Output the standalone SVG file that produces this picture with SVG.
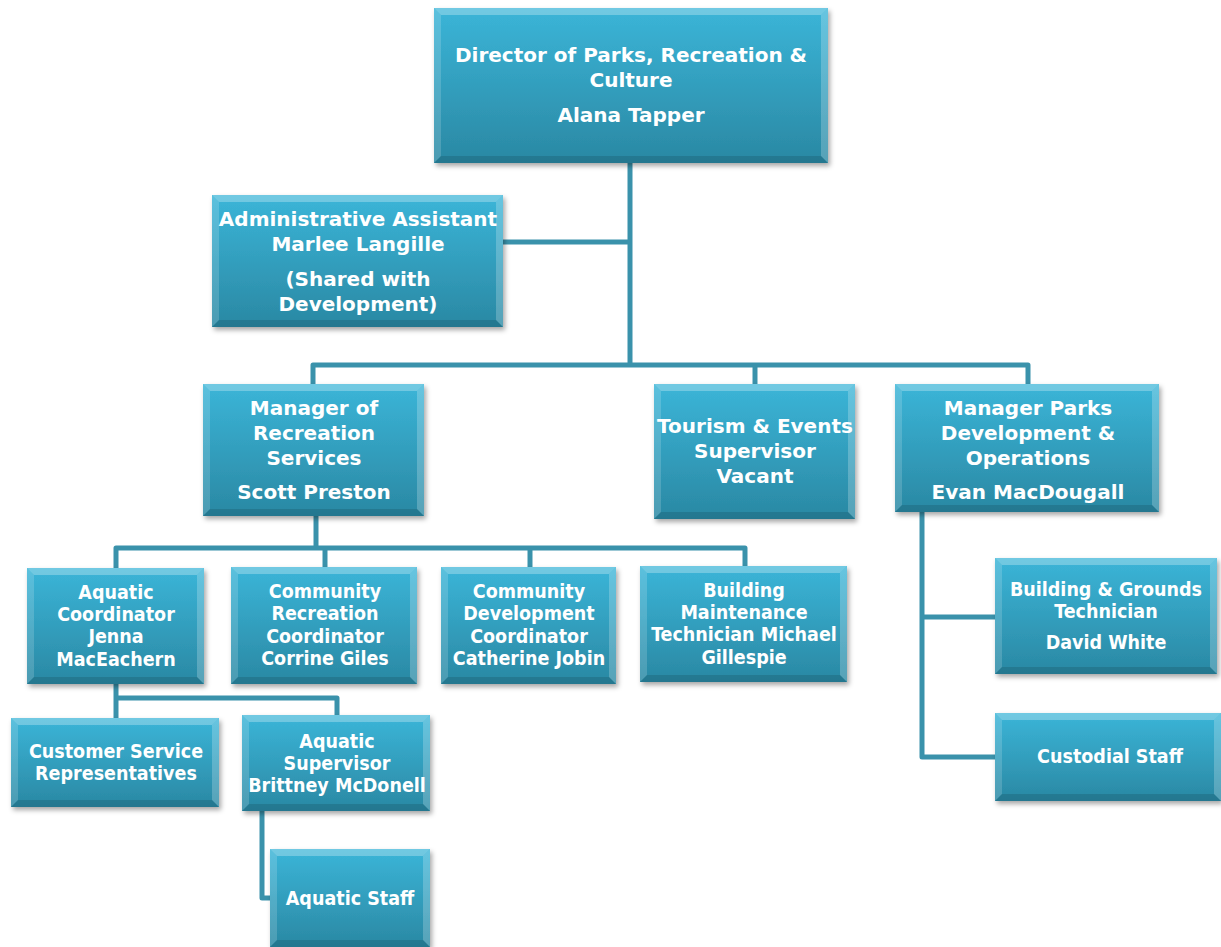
<svg xmlns="http://www.w3.org/2000/svg" width="1221" height="947" viewBox="0 0 1221 947">
<style>
.box{fill:url(#g);filter:url(#sh)}
.hl{fill:#ffffff;fill-opacity:0.28}
.lf{fill:#ffffff;fill-opacity:0.16}
.rt{fill:#ffffff;fill-opacity:0.22}
.bt{fill:#000000;fill-opacity:0.12}
.t{font-family:"DejaVu Sans","Liberation Sans",sans-serif;font-weight:bold;font-size:20px;fill:#ffffff;text-anchor:middle}
.s{font-family:"DejaVu Sans Condensed","DejaVu Sans",sans-serif;font-stretch:condensed;font-weight:bold;font-size:19.5px;fill:#ffffff;text-anchor:middle}
.c{fill:none;stroke:#3a92ab;stroke-width:5;stroke-linejoin:round}
</style>
<defs>
<linearGradient id="g" x1="0" y1="0" x2="0" y2="1">
<stop offset="0" stop-color="#3bb5d8"/>
<stop offset="1" stop-color="#2a88a3"/>
</linearGradient>
<filter id="sh" x="-10%" y="-10%" width="125%" height="130%">
<feDropShadow dx="2" dy="3" stdDeviation="2.5" flood-color="#000000" flood-opacity="0.35"/>
</filter>
</defs>
<rect width="1221" height="947" fill="#ffffff"/>
<g id="connectors">
<path class="c" d="M630 163V365"/>
<path class="c" d="M503 242H630"/>
<path class="c" d="M313 384V365H1028V384"/>
<path class="c" d="M755 365V384"/>
<path class="c" d="M316 516V548"/>
<path class="c" d="M116 568V548H745V566"/>
<path class="c" d="M325 548V567"/>
<path class="c" d="M530 548V567"/>
<path class="c" d="M116 684V718"/>
<path class="c" d="M116 698H337V715"/>
<path class="c" d="M262 811V898H270"/>
<path class="c" d="M922 512V757H995"/>
<path class="c" d="M922 617H995"/>
</g>
<g id="director">
<rect class="box" x="434" y="8" width="394" height="155"/>
<path class="hl" d="M434 8H828L821 15H441Z"/><path class="lf" d="M434 8L441 15V156L434 163Z"/><path class="rt" d="M828 8V163L821 156V15Z"/><path class="bt" d="M434 163H828L821 156H441Z"/>
<text class="t" x="631" y="62">Director of Parks, Recreation &amp;</text>
<text class="t" x="631" y="87">Culture</text>
<text class="t" x="631" y="122">Alana Tapper</text>
</g>
<g id="admin">
<rect class="box" x="212" y="195" width="291" height="132"/>
<path class="hl" d="M212 195H503L496 202H219Z"/><path class="lf" d="M212 195L219 202V320L212 327Z"/><path class="rt" d="M503 195V327L496 320V202Z"/><path class="bt" d="M212 327H503L496 320H219Z"/>
<text class="t" x="358" y="226">Administrative Assistant</text>
<text class="t" x="358" y="251">Marlee Langille</text>
<text class="t" x="358" y="286">(Shared with</text>
<text class="t" x="358" y="311">Development)</text>
</g>
<g id="mgr-rec">
<rect class="box" x="203" y="384" width="221" height="132"/>
<path class="hl" d="M203 384H424L417 391H210Z"/><path class="lf" d="M203 384L210 391V509L203 516Z"/><path class="rt" d="M424 384V516L417 509V391Z"/><path class="bt" d="M203 516H424L417 509H210Z"/>
<text class="t" x="314" y="415">Manager of</text>
<text class="t" x="314" y="440">Recreation</text>
<text class="t" x="314" y="465">Services</text>
<text class="t" x="314" y="499">Scott Preston</text>
</g>
<g id="tourism">
<rect class="box" x="654" y="384" width="201" height="135"/>
<path class="hl" d="M654 384H855L848 391H661Z"/><path class="lf" d="M654 384L661 391V512L654 519Z"/><path class="rt" d="M855 384V519L848 512V391Z"/><path class="bt" d="M654 519H855L848 512H661Z"/>
<text class="t" x="755" y="433">Tourism &amp; Events</text>
<text class="t" x="755" y="458">Supervisor</text>
<text class="t" x="755" y="483">Vacant</text>
</g>
<g id="mgr-parks">
<rect class="box" x="895" y="384" width="264" height="128"/>
<path class="hl" d="M895 384H1159L1152 391H902Z"/><path class="lf" d="M895 384L902 391V505L895 512Z"/><path class="rt" d="M1159 384V512L1152 505V391Z"/><path class="bt" d="M895 512H1159L1152 505H902Z"/>
<text class="t" x="1028" y="415">Manager Parks</text>
<text class="t" x="1028" y="440">Development &amp;</text>
<text class="t" x="1028" y="465">Operations</text>
<text class="t" x="1028" y="499">Evan MacDougall</text>
</g>
<g id="aquatic-coord">
<rect class="box" x="27" y="568" width="177" height="116"/>
<path class="hl" d="M27 568H204L197 575H34Z"/><path class="lf" d="M27 568L34 575V677L27 684Z"/><path class="rt" d="M204 568V684L197 677V575Z"/><path class="bt" d="M27 684H204L197 677H34Z"/>
<text class="s" x="116" y="599">Aquatic</text>
<text class="s" x="116" y="621">Coordinator</text>
<text class="s" x="116" y="643">Jenna</text>
<text class="s" x="116" y="666">MacEachern</text>
</g>
<g id="community-rec">
<rect class="box" x="231" y="567" width="186" height="117"/>
<path class="hl" d="M231 567H417L410 574H238Z"/><path class="lf" d="M231 567L238 574V677L231 684Z"/><path class="rt" d="M417 567V684L410 677V574Z"/><path class="bt" d="M231 684H417L410 677H238Z"/>
<text class="s" x="325" y="598">Community</text>
<text class="s" x="325" y="620">Recreation</text>
<text class="s" x="325" y="643">Coordinator</text>
<text class="s" x="325" y="665">Corrine Giles</text>
</g>
<g id="community-dev">
<rect class="box" x="441" y="567" width="175" height="117"/>
<path class="hl" d="M441 567H616L609 574H448Z"/><path class="lf" d="M441 567L448 574V677L441 684Z"/><path class="rt" d="M616 567V684L609 677V574Z"/><path class="bt" d="M441 684H616L609 677H448Z"/>
<text class="s" x="529" y="598">Community</text>
<text class="s" x="529" y="620">Development</text>
<text class="s" x="529" y="643">Coordinator</text>
<text class="s" x="529" y="665">Catherine Jobin</text>
</g>
<g id="building-maint">
<rect class="box" x="640" y="566" width="207" height="116"/>
<path class="hl" d="M640 566H847L840 573H647Z"/><path class="lf" d="M640 566L647 573V675L640 682Z"/><path class="rt" d="M847 566V682L840 675V573Z"/><path class="bt" d="M640 682H847L840 675H647Z"/>
<text class="s" x="744" y="597">Building</text>
<text class="s" x="744" y="619">Maintenance</text>
<text class="s" x="744" y="641">Technician Michael</text>
<text class="s" x="744" y="664">Gillespie</text>
</g>
<g id="customer-service">
<rect class="box" x="11" y="718" width="208" height="89"/>
<path class="hl" d="M11 718H219L212 725H18Z"/><path class="lf" d="M11 718L18 725V800L11 807Z"/><path class="rt" d="M219 718V807L212 800V725Z"/><path class="bt" d="M11 807H219L212 800H18Z"/>
<text class="s" x="116" y="758">Customer Service</text>
<text class="s" x="116" y="780">Representatives</text>
</g>
<g id="aquatic-supervisor">
<rect class="box" x="242" y="715" width="188" height="96"/>
<path class="hl" d="M242 715H430L423 722H249Z"/><path class="lf" d="M242 715L249 722V804L242 811Z"/><path class="rt" d="M430 715V811L423 804V722Z"/><path class="bt" d="M242 811H430L423 804H249Z"/>
<text class="s" x="337" y="748">Aquatic</text>
<text class="s" x="337" y="770">Supervisor</text>
<text class="s" x="337" y="792">Brittney McDonell</text>
</g>
<g id="aquatic-staff">
<rect class="box" x="270" y="849" width="160" height="98"/>
<path class="hl" d="M270 849H430L423 856H277Z"/><path class="lf" d="M270 849L277 856V940L270 947Z"/><path class="rt" d="M430 849V947L423 940V856Z"/><path class="bt" d="M270 947H430L423 940H277Z"/>
<text class="s" x="350" y="905">Aquatic Staff</text>
</g>
<g id="grounds-tech">
<rect class="box" x="995" y="558" width="222" height="116"/>
<path class="hl" d="M995 558H1217L1210 565H1002Z"/><path class="lf" d="M995 558L1002 565V667L995 674Z"/><path class="rt" d="M1217 558V674L1210 667V565Z"/><path class="bt" d="M995 674H1217L1210 667H1002Z"/>
<text class="s" x="1106" y="596">Building &amp; Grounds</text>
<text class="s" x="1106" y="618">Technician</text>
<text class="s" x="1106" y="649">David White</text>
</g>
<g id="custodial">
<rect class="box" x="995" y="713" width="226" height="88"/>
<path class="hl" d="M995 713H1221L1214 720H1002Z"/><path class="lf" d="M995 713L1002 720V794L995 801Z"/><path class="rt" d="M1221 713V801L1214 794V720Z"/><path class="bt" d="M995 801H1221L1214 794H1002Z"/>
<text class="s" x="1110" y="763">Custodial Staff</text>
</g>
</svg>
